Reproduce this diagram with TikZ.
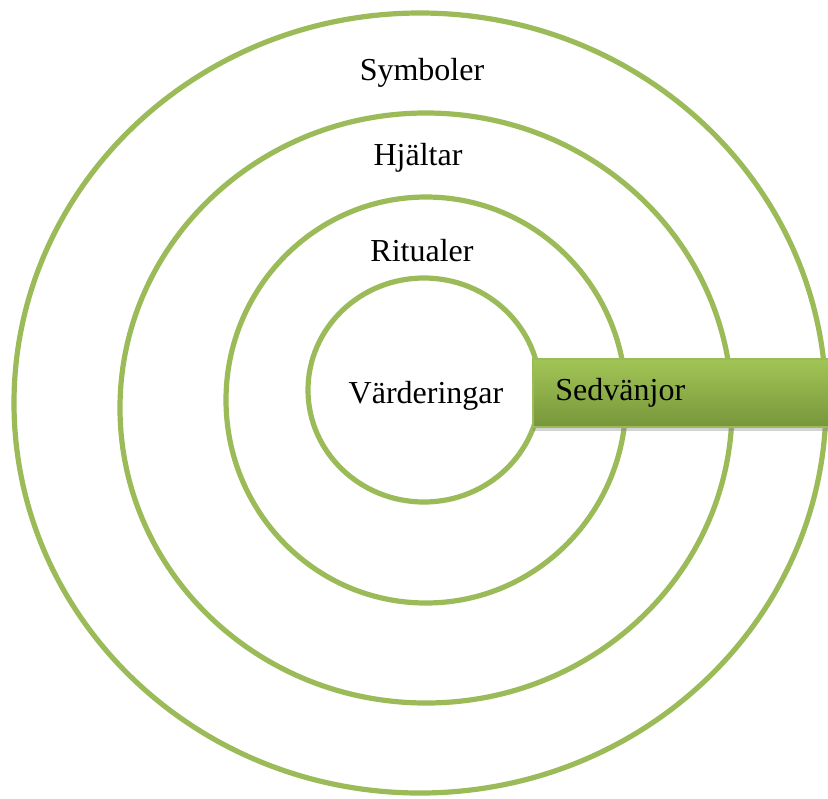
\documentclass[tikz,border=0pt]{standalone}
\usepackage{fontspec}
\setmainfont{Liberation Serif}
\usetikzlibrary{shadows}
\definecolor{ringgreen}{HTML}{9BBB59}
\definecolor{boxtop}{HTML}{A2C556}
\definecolor{boxbottom}{HTML}{77963B}

\begin{document}
\begin{tikzpicture}[x=0.5pt, y=-0.5pt, every node/.style={font=\fontsize{16}{19}\selectfont, inner sep=0pt}, ring/.style={draw=ringgreen, line width=2.6pt}, sedbox/.style={draw=ringgreen, line width=0.6pt, top color=boxtop, bottom color=boxbottom, drop shadow={shadow xshift=0pt, shadow yshift=-2pt, opacity=0.35}}]
	\useasboundingbox (0,0) rectangle (828,798);
	
	\draw[ring] (420,403) ellipse [x radius=203pt, y radius=195pt];
	\draw[ring] (426,408) ellipse [x radius=153pt, y radius=147.5pt];
	\draw[ring] (426,400) ellipse [x radius=100pt, y radius=101.5pt];
	\draw[ring] (424,390) ellipse [x radius=58pt, y radius=56pt];
	
	\node[anchor=base] (symboler) at (422,80){Symboler};
	\node[anchor=base] (hjaltar) at (418,165){Hjältar};
	\node[anchor=base] (ritualer) at (422,261){Ritualer};
	\node[anchor=base] (varderingar) at (426,403){Värderingar};
	
	\draw[sedbox] (533,359) rectangle (850,427);
	\node[anchor=base west] (sedvanjor) at (555,400){Sedvänjor};
\end{tikzpicture}
\end{document}
